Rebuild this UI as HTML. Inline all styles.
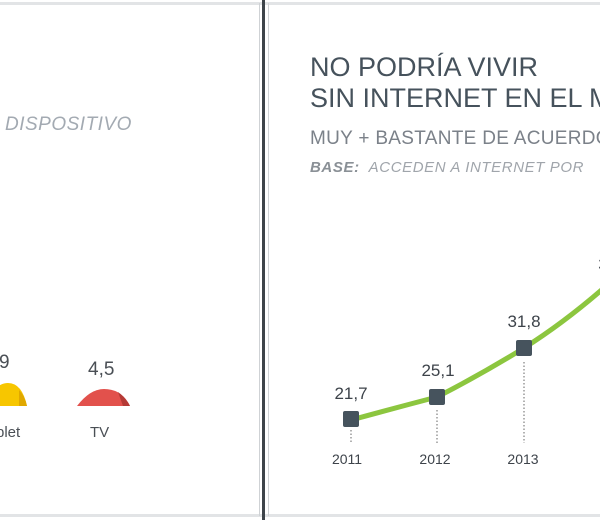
<!DOCTYPE html>
<html><head><meta charset="utf-8"><style>
body{margin:0;width:600px;height:520px;background:#fff;position:relative;overflow:hidden;font-family:"Liberation Sans",sans-serif}
.t{position:absolute;white-space:nowrap}
</style></head><body>
<div style="position:absolute;left:0;top:2px;width:600px;height:3px;background:#e2e4e6"></div>
<div style="position:absolute;left:0;top:514px;width:600px;height:3px;background:#e2e4e6"></div>
<div style="position:absolute;left:259px;top:3px;width:1px;height:513px;background:#cfd2d5"></div>
<div style="position:absolute;left:262px;top:0;width:3px;height:520px;background:#3e444a"></div>
<div style="position:absolute;left:268px;top:3px;width:1px;height:513px;background:#cfd2d5"></div>

<div class="t" style="left:5px;top:114px;font-size:19px;letter-spacing:0.5px;font-style:italic;color:#a3aab2">DISPOSITIVO</div>
<div class="t" style="left:-1px;top:352px;font-size:19px;color:#4a4f55">9</div>
<div class="t" style="left:88px;top:359px;font-size:19px;color:#4a4f55">4,5</div>
<div class="t" style="left:-4px;top:424px;font-size:15px;color:#4a4f55">blet</div>
<div class="t" style="left:90px;top:424px;font-size:15px;color:#4a4f55">TV</div>
<svg style="position:absolute;left:0;top:0" width="260" height="520">
<path d="M-20 406 Q-5 383 8 383 Q22 383 27 406 Z" fill="#f7c600"/>
<path d="M19 390 Q25 396 27 406 L19 406 Z" fill="#e0a800"/>
<path d="M77 406 Q90 389 104 389 Q122 389 130 406 Z" fill="#e2514c"/>
<path d="M118 392 Q126 398 130 406 L123 406 Z" fill="#b43a36"/>
</svg>

<div class="t" style="left:310px;top:52px;font-size:27px;line-height:31px;color:#46525c">NO PODRÍA VIVIR<br>SIN INTERNET EN EL M</div>
<div class="t" style="left:310px;top:128px;font-size:19px;letter-spacing:0.3px;color:#7b8189">MUY + BASTANTE DE ACUERDO</div>
<div class="t" style="left:310px;top:159px;font-size:15px;letter-spacing:0.6px;font-style:italic;color:#a0a5ab"><b style="color:#8a9096">BASE:</b>&nbsp; ACCEDEN A INTERNET POR</div>

<svg style="position:absolute;left:0;top:0" width="600" height="520">
<g stroke="#666" stroke-width="1" stroke-dasharray="1.5,2">
<line x1="351" y1="430" x2="351" y2="443"/>
<line x1="437" y1="410" x2="437" y2="443"/>
<line x1="524" y1="362" x2="524" y2="443"/>
</g>
<path d="M351 420 Q395 408 437 397 Q480 375 524 348 Q565 322 605 287" fill="none" stroke="#8cc63f" stroke-width="5"/>
<rect x="343" y="411" width="16" height="16" rx="2" fill="#46535d"/>
<rect x="429" y="389" width="16" height="16" rx="2" fill="#46535d"/>
<rect x="516" y="340" width="16" height="16" rx="2" fill="#46535d"/>
<g font-family="Liberation Sans" font-size="17" fill="#3d434a" text-anchor="middle">
<text x="351" y="399">21,7</text>
<text x="438" y="376">25,1</text>
<text x="524" y="327">31,8</text>
<text x="603" y="270">3</text>
</g>
<g font-family="Liberation Sans" font-size="14" fill="#3d434a" text-anchor="middle">
<text x="347" y="464">2011</text>
<text x="435" y="464">2012</text>
<text x="523" y="464">2013</text>
<text x="604" y="464">2</text>
</g>
</svg>
</body></html>
